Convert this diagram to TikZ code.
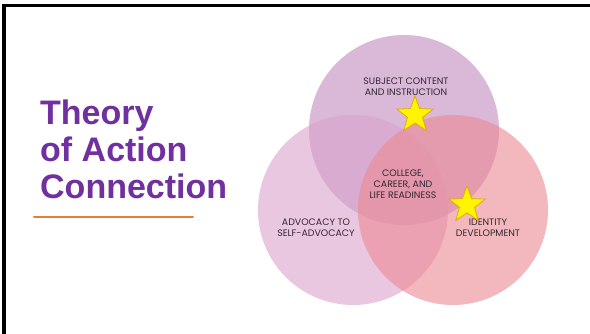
\documentclass[tikz,border=0pt]{standalone}
\usepackage{fontspec}
\setmainfont{Liberation Sans}
\newfontfamily\labelfont{Poppins}
\usetikzlibrary{shapes.geometric}
\definecolor{topc}{RGB}{193,137,190}
\definecolor{leftc}{RGB}{220,163,205}
\definecolor{rightc}{RGB}{236,137,147}
\definecolor{titlec}{RGB}{112,48,160}
\definecolor{linec}{RGB}{232,125,50}
\definecolor{labc}{RGB}{50,40,50}
\definecolor{starc}{RGB}{255,245,0}
\definecolor{stard}{RGB}{230,170,0}
\tikzset{
  venn/.style={circle, minimum size=190pt, inner sep=0pt, fill opacity=0.6},
  lab/.style={font=\labelfont\fontsize{9.4}{11}\selectfont, text=labc, align=center, inner sep=0pt},
  starshape/.style={star, star points=5, star point ratio=2.4, minimum size=38pt, inner sep=0pt, fill=starc, draw=stard, line width=0.8pt},
  title/.style={font=\bfseries\fontsize{34}{37}\selectfont, text=titlec, align=left, anchor=north west, inner sep=0pt}
}
\begin{document}
\begin{tikzpicture}[x=1pt,y=-1pt]
\useasboundingbox (0,0) rectangle (590,334);
\fill[white] (0,0) rectangle (590,334);
\coordinate (tl) at (4,5.5);
\coordinate (tr) at (590,5.5);
\coordinate (bl) at (4,334);
\draw[line width=3.5pt] (tr) -- (tl) -- (bl);
\node[venn, fill=topc] (top) at (404,130) {};
\node[venn, fill=leftc] (left) at (353,210) {};
\node[venn, fill=rightc] (right) at (453,210) {};
\node[lab] (ltop) at (406,87) {SUBJECT CONTENT\\AND INSTRUCTION};
\node[lab] (lmid) at (403,184) {COLLEGE,\\CAREER, AND\\LIFE READINESS};
\node[lab] (lleft) at (316,228) {ADVOCACY TO\\SELF-ADVOCACY};
\node[lab] (lright) at (488,228) {IDENTITY\\DEVELOPMENT};
\node[starshape] (s1) at (415,115) {};
\node[starshape] (s2) at (467,205) {};
\node[title] (ttl) at (40,100) {Theory\\of Action\\Connection};
\coordinate (u1) at (34,217);
\coordinate (u2) at (193,217);
\draw[linec, line width=2pt, line cap=round] (u1) -- (u2);
\end{tikzpicture}
\end{document}
